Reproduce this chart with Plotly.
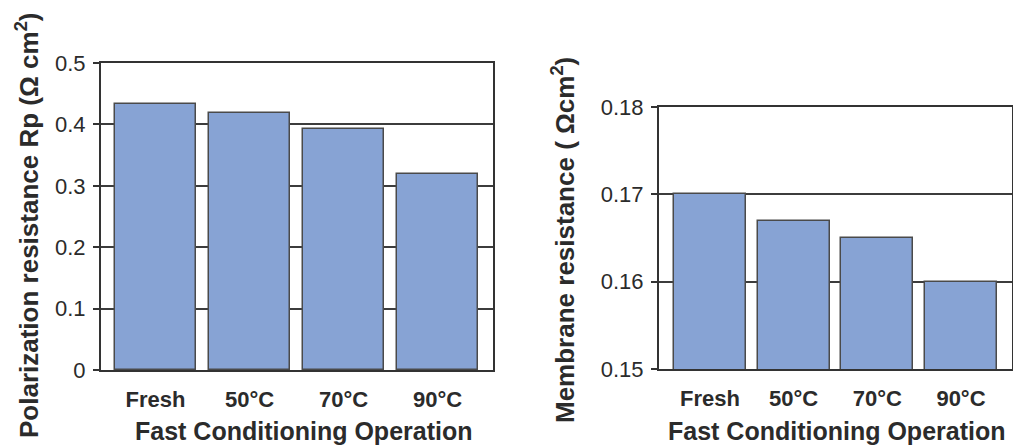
import plotly.graph_objects as go

# Conditioning states shared by both panels
conditions = ["Fresh", "50°C", "70°C", "90°C"]
# Polarization resistance Rp (Ω cm²)
rp_values = [0.433, 0.418, 0.392, 0.320]
# Membrane resistance (Ω cm²)
membrane_values = [0.170, 0.167, 0.165, 0.160]

rp_ticks = [0, 0.1, 0.2, 0.3, 0.4, 0.5]
rp_ticktext = ["0", "0.1", "0.2", "0.3", "0.4", "0.5"]
mem_ticks = [0.15, 0.16, 0.17, 0.18]
mem_ticktext = ["0.15", "0.16", "0.17", "0.18"]

W, H = 1013, 446
FONT = "Liberation Sans, Arial, sans-serif"
TEXT = "#2b2b2b"
BAR_FILL = "#87a3d4"
BAR_LINE = "#4a4a4a"
AXIS = "#333333"

def px_x(p):
    return p / W

def px_y(p):
    return 1 - p / H

fig = go.Figure()

fig.add_trace(go.Bar(
    x=list(range(len(conditions))), y=rp_values, width=0.86,
    marker=dict(color=BAR_FILL, line=dict(color=BAR_LINE, width=1.5)),
    xaxis="x", yaxis="y", showlegend=False,
))
fig.add_trace(go.Bar(
    x=list(range(len(conditions))), y=membrane_values, width=0.86,
    marker=dict(color=BAR_FILL, line=dict(color=BAR_LINE, width=1.5)),
    xaxis="x2", yaxis="y2", showlegend=False,
))

common_x = dict(
    tickmode="array", tickvals=list(range(len(conditions))), ticktext=conditions,
    tickfont=dict(family=FONT, size=22, color=TEXT, weight="bold"),
    showline=True, linecolor=AXIS, linewidth=2, mirror=True,
    ticks="", showgrid=False, zeroline=False, ticklabelstandoff=9,
    automargin=False,
)
common_y = dict(
    tickmode="array",
    tickfont=dict(family=FONT, size=22, color=TEXT),
    showline=True, linecolor=AXIS, linewidth=2, mirror=True,
    ticks="outside", ticklen=6, tickwidth=1.5, tickcolor=AXIS,
    showgrid=True, gridcolor="#3c3c3c", gridwidth=1.5, zeroline=False,
    ticklabelstandoff=3, automargin=False,
)

fig.update_layout(
    width=W, height=H,
    margin=dict(l=0, r=0, t=0, b=0, autoexpand=False),
    paper_bgcolor="white", plot_bgcolor="white",
    bargap=0,
    xaxis=dict(domain=[px_x(101), px_x(493)], range=[-0.58, 3.59], anchor="y", **common_x),
    yaxis=dict(domain=[px_y(370), px_y(63)], range=[0, 0.5], anchor="x",
               tickvals=rp_ticks, ticktext=rp_ticktext, **common_y),
    xaxis2=dict(domain=[px_x(659), px_x(1012)], range=[-0.61, 3.61], anchor="y2", **common_x),
    yaxis2=dict(domain=[px_y(369), px_y(107)], range=[0.15, 0.18], anchor="x2",
                tickvals=mem_ticks, ticktext=mem_ticktext, **common_y),
)

title_font = dict(family=FONT, size=25, color=TEXT, weight="bold")
fig.add_annotation(text="Fast Conditioning Operation", x=px_x(303), y=px_y(431),
                   xref="paper", yref="paper", showarrow=False, font=title_font,
                   xanchor="center", yanchor="middle")
fig.add_annotation(text="Fast Conditioning Operation", x=px_x(836), y=px_y(431),
                   xref="paper", yref="paper", showarrow=False, font=title_font,
                   xanchor="center", yanchor="middle")
fig.add_annotation(text="Polarization resistance Rp (Ω cm<sup>2</sup>)", x=px_x(27), y=px_y(226),
                   xref="paper", yref="paper", showarrow=False,
                   font=dict(family=FONT, size=26, color=TEXT, weight="bold"),
                   textangle=-90, xanchor="center", yanchor="middle")
fig.add_annotation(text="Membrane resistance ( Ωcm<sup>2</sup>)", x=px_x(563), y=px_y(240),
                   xref="paper", yref="paper", showarrow=False,
                   font=dict(family=FONT, size=26, color=TEXT, weight="bold"),
                   textangle=-90, xanchor="center", yanchor="middle")

fig.write_html("out.html")
